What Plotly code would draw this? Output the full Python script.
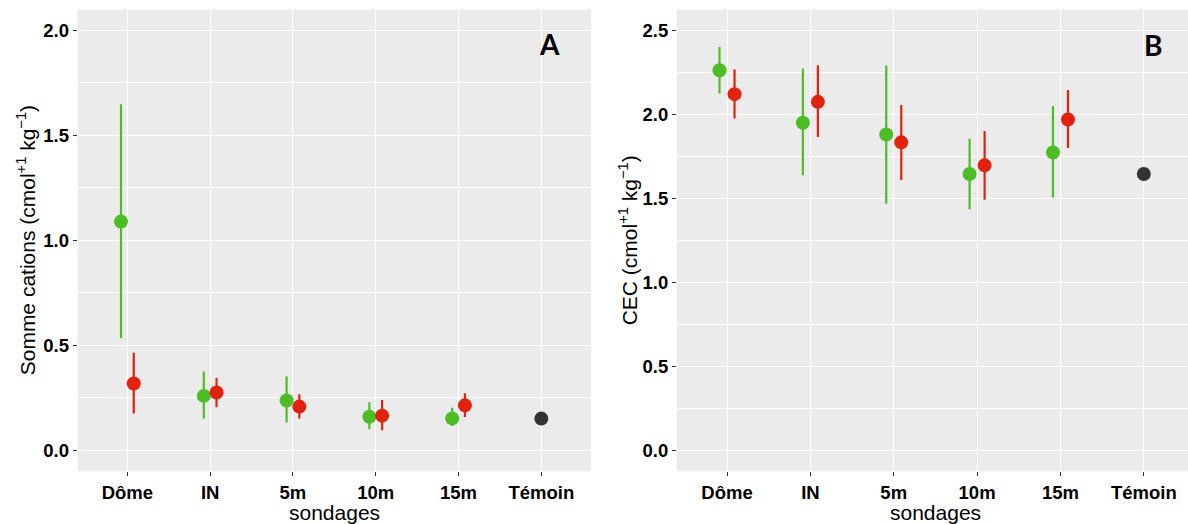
import plotly.graph_objects as go

# ---------------- data ----------------
categories = ["Dôme", "IN", "5m", "10m", "15m", "Témoin"]

# Panel A : Somme cations
a_green_mean = [1.089, 0.259, 0.237, 0.160, 0.152]
a_green_lo   = [0.534, 0.152, 0.132, 0.100, 0.116]
a_green_hi   = [1.648, 0.375, 0.351, 0.229, 0.203]
a_red_mean   = [0.318, 0.275, 0.208, 0.165, 0.214]
a_red_lo     = [0.175, 0.205, 0.152, 0.095, 0.159]
a_red_hi     = [0.464, 0.344, 0.267, 0.240, 0.272]
a_temoin     = [0.151]

# Panel B : CEC
b_green_mean = [2.262, 1.950, 1.880, 1.645, 1.773]
b_green_lo   = [2.124, 1.637, 1.467, 1.435, 1.506]
b_green_hi   = [2.401, 2.272, 2.290, 1.855, 2.050]
b_red_mean   = [2.120, 2.074, 1.833, 1.696, 1.969]
b_red_lo     = [1.975, 1.865, 1.609, 1.492, 1.799]
b_red_hi     = [2.266, 2.292, 2.056, 1.900, 2.144]
b_temoin     = [1.645]

GREEN = "#4DBD26"
RED = "#E2220E"
DARK = "#333333"
FONT = "Liberation Sans"

fig = go.Figure()


def add_panel(xa, ya, gm, glo, ghi, rm, rlo, rhi, tm, dodge):
    n = len(gm)
    xg = [i - dodge for i in range(n)]
    xr = [i + dodge for i in range(n)]
    for xs, m, lo, hi, col in ((xg, gm, glo, ghi, GREEN), (xr, rm, rlo, rhi, RED)):
        fig.add_trace(go.Scatter(
            x=xs, y=m, mode="markers", xaxis=xa, yaxis=ya, showlegend=False,
            marker=dict(color=col, size=14, line=dict(width=0)),
            error_y=dict(type="data", symmetric=False,
                         array=[h - v for h, v in zip(hi, m)],
                         arrayminus=[v - l for v, l in zip(m, lo)],
                         width=0, thickness=2.2, color=col),
        ))
    fig.add_trace(go.Scatter(
        x=[len(categories) - 1], y=tm, mode="markers", xaxis=xa, yaxis=ya,
        showlegend=False, marker=dict(color=DARK, size=14, line=dict(width=0)),
    ))


add_panel("x", "y", a_green_mean, a_green_lo, a_green_hi,
          a_red_mean, a_red_lo, a_red_hi, a_temoin, 0.077)
add_panel("x2", "y2", b_green_mean, b_green_lo, b_green_hi,
          b_red_mean, b_red_lo, b_red_hi, b_temoin, 0.09)

W, H = 1188, 524
ydom = [1 - 471.3 / H, 1 - 9.3 / H]
xdomA = [77.7 / W, 591 / W]
xdomB = [677 / W, 1.0]

tickfont = dict(family=FONT, size=18.5, color="black", weight="bold")

def xaxis(dom, rng, anchor):
    return dict(domain=dom, range=rng, anchor=anchor,
                tickmode="array", tickvals=list(range(len(categories))),
                ticktext=categories, showgrid=True, gridcolor="white",
                gridwidth=1.1, zeroline=False, ticks="outside", ticklen=4,
                tickcolor="#333333", tickwidth=1, tickfont=tickfont,
                showline=False, fixedrange=True)

def yaxis(dom, rng, anchor):
    return dict(domain=dom, range=rng, anchor=anchor,
                tickmode="linear", tick0=0, dtick=0.5, tickformat=".1f",
                showgrid=True, gridcolor="white", gridwidth=1.1,
                minor=dict(dtick=0.25, tick0=0, showgrid=True,
                           gridcolor="white", gridwidth=0.5, ticks=""),
                zeroline=False, ticks="outside", ticklen=4,
                tickcolor="#333333", tickwidth=1, tickfont=tickfont,
                showline=False, fixedrange=True)

fig.update_layout(
    width=W, height=H,
    margin=dict(l=0, r=0, t=0, b=0),
    paper_bgcolor="white", plot_bgcolor="#EBEBEB",
    xaxis=xaxis(xdomA, [-0.6, 5.6], "y"),
    yaxis=yaxis(ydom, [-0.1, 2.1], "x"),
    xaxis2=xaxis(xdomB, [-0.6, 5.53], "y2"),
    yaxis2=yaxis(ydom, [-0.125, 2.625], "x2"),
    showlegend=False,
)

ymid = (ydom[0] + ydom[1]) / 2
ann = [
    dict(text="A", x=5.10, y=1.934, xref="x", yref="y", showarrow=False,
         font=dict(family="Lato", size=28, color="black", weight="bold")),
    dict(text="B", x=5.11, y=2.413, xref="x2", yref="y2", showarrow=False,
         font=dict(family="Lato", size=28, color="black", weight="bold")),
    dict(text="Somme cations (cmol<sup>+1</sup> kg<sup>−1</sup>)",
         x=26 / W, y=ymid, xref="paper", yref="paper", textangle=-90,
         showarrow=False, xanchor="center", yanchor="middle",
         font=dict(family=FONT, size=21, color="black")),
    dict(text="CEC (cmol<sup>+1</sup> kg<sup>−1</sup>)",
         x=628 / W, y=ymid, xref="paper", yref="paper", textangle=-90,
         showarrow=False, xanchor="center", yanchor="middle",
         font=dict(family=FONT, size=21, color="black")),
    dict(text="sondages", x=(xdomA[0] + xdomA[1]) / 2, y=1 - 512 / H,
         xref="paper", yref="paper", showarrow=False,
         xanchor="center", yanchor="middle",
         font=dict(family=FONT, size=21, color="black")),
    dict(text="sondages", x=(677 + 1194) / 2 / W, y=1 - 512 / H,
         xref="paper", yref="paper", showarrow=False,
         xanchor="center", yanchor="middle",
         font=dict(family=FONT, size=21, color="black")),
]
fig.update_layout(annotations=ann)

fig.write_html("out.html")
